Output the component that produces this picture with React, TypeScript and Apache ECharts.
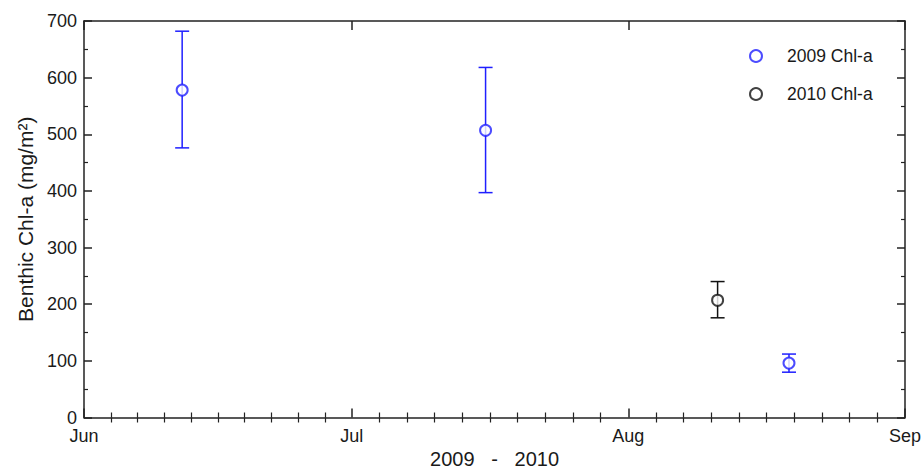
import React, { useEffect, useRef } from "react";
import * as echarts from "echarts";

// ---- data ----
const monthLabels = ["Jun", "Jul", "Aug", "Sep"];
const monthStartDays = [0, 30, 61, 92]; // days since Jun 1
const yTicks = [0, 100, 200, 300, 400, 500, 600, 700];

const dates2009 = ["2009-06-12", "2009-07-16", "2009-08-19"];
const mean2009 = [578, 507, 96];
const low2009 = [476, 397, 80];
const high2009 = [682, 618, 112];

const dates2010 = ["2010-08-11"];
const mean2010 = [207];
const low2010 = [176];
const high2010 = [240];

const seriesNames = ["2009 Chl-a", "2010 Chl-a"];
const xTitle = "2009   -   2010";
const yTitle = "Benthic Chl-a (mg/m²)";

function dayOfSeason(d: string): number {
  const [y, m, dd] = d.split("-").map(Number);
  return Math.round((Date.UTC(y, m - 1, dd) - Date.UTC(y, 5, 1)) / 86400000);
}

const minorDays: number[] = [];
for (let i = 0; i < monthStartDays.length - 1; i++) {
  const a = monthStartDays[i];
  const b = monthStartDays[i + 1];
  for (let k = 1; k < 10; k++) minorDays.push(a + ((b - a) * k) / 10);
}

const BLUE = "#1f1fff";
const BLACK = "#111111";
const AXIS = "#222222";
const TEXT = "#1a1a1a";
const FONT = "'Liberation Sans', Arial, sans-serif";

export default function App() {
  const ref = useRef<HTMLDivElement>(null);
  useEffect(() => {
    if (!ref.current) return;
    const chart = echarts.init(ref.current, undefined, { renderer: "svg" });

    const pts2009 = dates2009.map((d, i) => [dayOfSeason(d), mean2009[i]]);
    const pts2010 = dates2010.map((d, i) => [dayOfSeason(d), mean2010[i]]);
    const err2009 = dates2009.map((d, i) => [dayOfSeason(d), low2009[i], high2009[i]]);
    const err2010 = dates2010.map((d, i) => [dayOfSeason(d), low2010[i], high2010[i]]);

    const errSeries = (data: number[][], color: string) => ({
      type: "custom",
      xAxisIndex: 0,
      yAxisIndex: 0,
      silent: true,
      z: 1,
      encode: { x: 0, y: [1, 2] },
      data,
      renderItem: (params: any, api: any) => {
        const x = api.value(0);
        const lo = api.coord([x, api.value(1)]);
        const hi = api.coord([x, api.value(2)]);
        const hw = 7;
        const style = { stroke: color, lineWidth: 1.5 };
        return {
          type: "group",
          children: [
            { type: "line", shape: { x1: lo[0], y1: lo[1], x2: hi[0], y2: hi[1] }, style },
            { type: "line", shape: { x1: lo[0] - hw, y1: lo[1], x2: lo[0] + hw, y2: lo[1] }, style },
            { type: "line", shape: { x1: hi[0] - hw, y1: hi[1], x2: hi[0] + hw, y2: hi[1] }, style },
          ],
        };
      },
    });

    const xBase = {
      type: "value",
      min: 0,
      max: 92,
      splitLine: { show: false },
    };

    chart.setOption({
      animation: false,
      backgroundColor: "#ffffff",
      grid: { left: 84, right: 17, top: 21, bottom: 51.5, containLabel: false, outerBoundsMode: "none" },
      legend: {
        orient: "vertical",
        left: 744,
        top: 41,
        itemWidth: 32,
        itemHeight: 12,
        itemGap: 18,
        data: seriesNames,
        textStyle: {
          fontFamily: FONT,
          fontSize: 17.5,
          color: TEXT,
          lineHeight: 20,
          padding: [0, 0, 0, 10],
        },
      },
      xAxis: [
        {
          ...xBase,
          position: "bottom",
          axisLine: { show: true, onZero: false, lineStyle: { color: AXIS, width: 1.5 } },
          axisTick: { show: true, inside: true, length: 9, customValues: monthStartDays, lineStyle: { color: AXIS, width: 1.5 } },
          axisLabel: {
            show: true,
            customValues: monthStartDays,
            margin: 9,
            fontFamily: FONT,
            fontSize: 18,
            color: TEXT,
            formatter: (v: number) => {
              const i = monthStartDays.indexOf(Math.round(v));
              return i >= 0 ? monthLabels[i] : "";
            },
          },
          name: xTitle,
          nameLocation: "middle",
          nameGap: 29,
          nameTextStyle: { fontFamily: FONT, fontSize: 20, color: TEXT },
        },
        {
          ...xBase,
          position: "bottom",
          axisLine: { show: false },
          axisTick: { show: true, inside: true, length: 5, customValues: minorDays, lineStyle: { color: AXIS, width: 1.2 } },
          axisLabel: { show: false },
        },
        {
          ...xBase,
          position: "top",
          axisLine: { show: true, onZero: false, lineStyle: { color: AXIS, width: 1.5 } },
          axisTick: { show: true, inside: true, length: 9, customValues: monthStartDays, lineStyle: { color: AXIS, width: 1.5 } },
          axisLabel: { show: false },
        },
        {
          ...xBase,
          position: "top",
          axisLine: { show: false },
          axisTick: { show: true, inside: true, length: 5, customValues: minorDays, lineStyle: { color: AXIS, width: 1.2 } },
          axisLabel: { show: false },
        },
      ],
      yAxis: [
        {
          type: "value",
          min: yTicks[0],
          max: yTicks[yTicks.length - 1],
          interval: 100,
          position: "left",
          splitLine: { show: false },
          axisLine: { show: true, onZero: false, lineStyle: { color: AXIS, width: 1.5 } },
          axisTick: { show: true, inside: true, length: 8, lineStyle: { color: AXIS, width: 1.5 } },
          minorTick: { show: true, splitNumber: 2, length: 4, lineStyle: { color: AXIS, width: 1.2 } },
          minorSplitLine: { show: false },
          axisLabel: { margin: 7, fontFamily: FONT, fontSize: 18, color: TEXT },
          name: yTitle,
          nameLocation: "middle",
          nameGap: 47,
          nameRotate: 90,
          nameTextStyle: { fontFamily: FONT, fontSize: 21, color: TEXT },
        },
        {
          type: "value",
          min: yTicks[0],
          max: yTicks[yTicks.length - 1],
          interval: 100,
          position: "right",
          splitLine: { show: false },
          axisLine: { show: true, onZero: false, lineStyle: { color: AXIS, width: 1.5 } },
          axisTick: { show: true, inside: true, length: 8, lineStyle: { color: AXIS, width: 1.5 } },
          minorTick: { show: true, splitNumber: 2, length: 4, lineStyle: { color: AXIS, width: 1.2 } },
          minorSplitLine: { show: false },
          axisLabel: { show: false },
        },
      ],
      series: [
        errSeries(err2009, BLUE),
        errSeries(err2010, BLACK),
        {
          name: seriesNames[0],
          type: "scatter",
          xAxisIndex: 0,
          yAxisIndex: 0,
          symbol: "emptyCircle",
          symbolSize: 11,
          z: 3,
          itemStyle: { color: BLUE, borderColor: BLUE, borderWidth: 1.4 },
          data: pts2009,
        },
        {
          name: seriesNames[1],
          type: "scatter",
          xAxisIndex: 0,
          yAxisIndex: 0,
          symbol: "emptyCircle",
          symbolSize: 11,
          z: 3,
          itemStyle: { color: BLACK, borderColor: BLACK, borderWidth: 1.4 },
          data: pts2010,
        },
      ],
    });
    return () => chart.dispose();
  }, []);

  return (
    <div
      ref={ref}
      style={{ position: "fixed", left: 0, top: 0, width: 922, height: 469, background: "#fff" }}
    />
  );
}
